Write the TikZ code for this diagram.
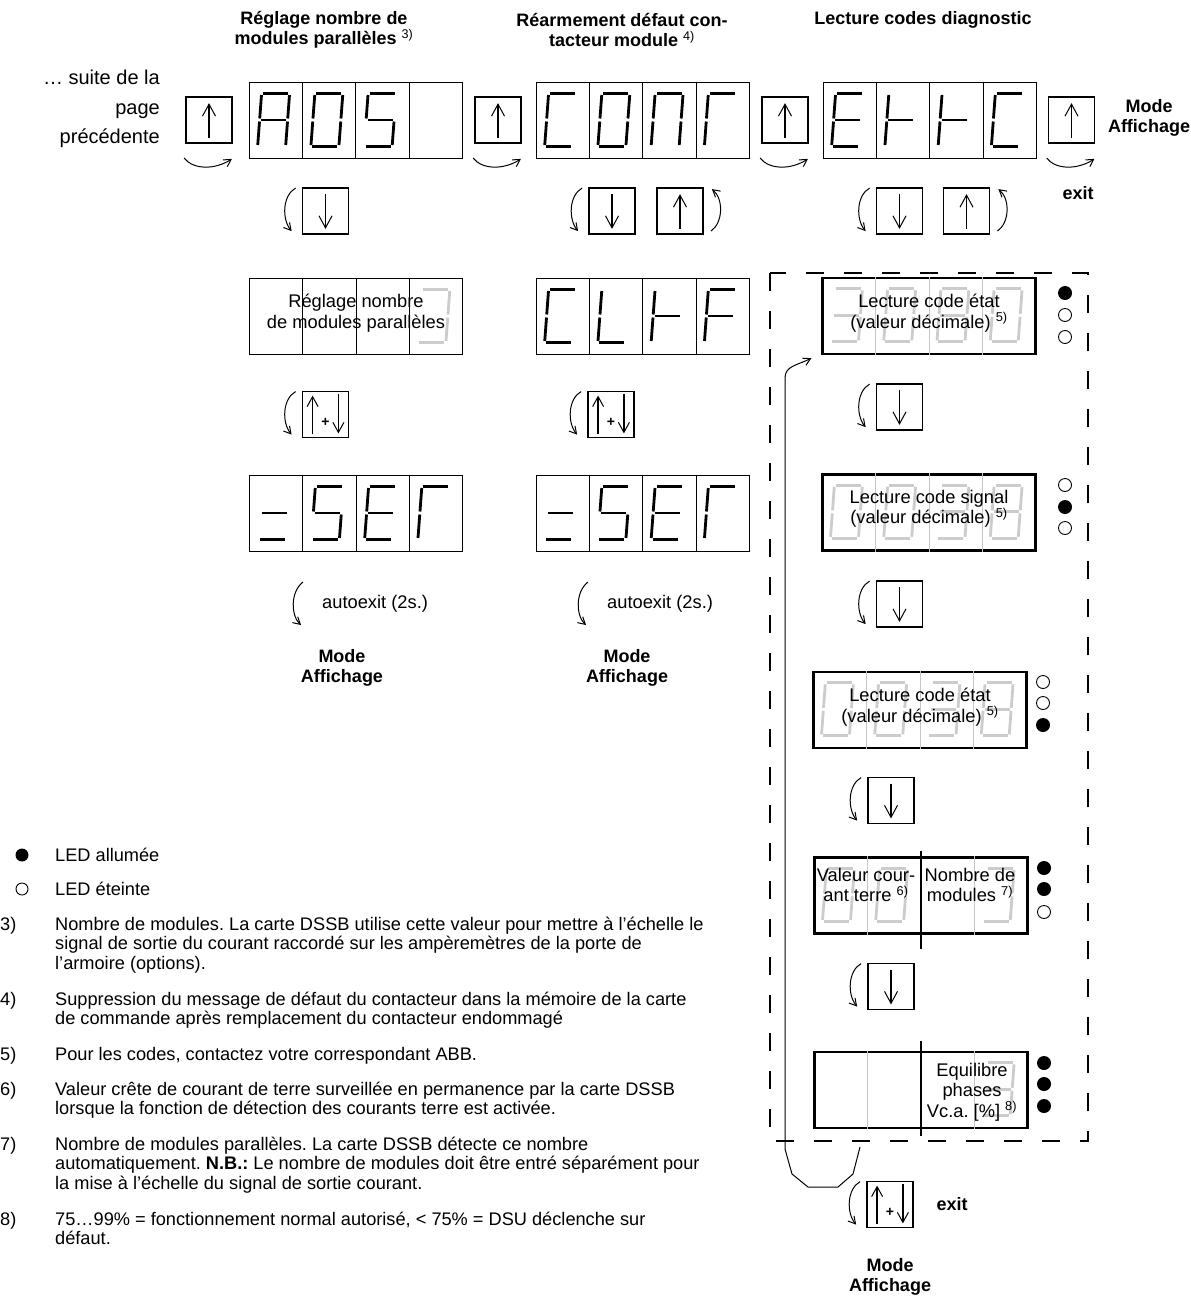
\documentclass[tikz,border=0pt]{standalone}
\usepackage{fontspec}
\setmainfont{Liberation Sans}
\usetikzlibrary{arrows.meta, calc}
\frenchspacing
\tikzset{
  disp/.style={draw, line width=1pt, minimum width=213pt, minimum height=76pt, inner sep=0pt},
  dispT/.style={disp, line width=2.4pt},
  btn/.style={draw, line width=1.8pt, minimum size=46pt, inner sep=0pt},
  barr/.style={line width=1.6pt, -{Straight Barb[length=12pt,width=13pt,line width=1pt]}},
  barr2/.style={line width=1.6pt, -{Straight Barb[length=10pt,width=11pt,line width=1pt]}},
  curl/.style={line width=1pt, -{Straight Barb[length=7pt,width=8pt]}},
  seg/.style={line width=2.8pt},
  gseg/.style={line width=2.8pt, color=gray!40},
  dv/.style={line width=1pt},
  gdv/.style={line width=0.8pt, gray!45},
  tdv/.style={line width=2.6pt},
  dbox/.style={line width=2.3pt, dash pattern=on 18pt off 20pt},
  ledon/.style={circle, fill, minimum size=14pt, inner sep=0pt},
  ledoff/.style={circle, draw, line width=0.9pt, minimum size=13pt, inner sep=0pt},
  lbl/.style={font=\fontsize{18.3}{20.5}\selectfont, align=center, inner sep=0pt},
  ttl/.style={font=\bfseries\fontsize{18}{20}\selectfont, align=center, inner sep=0pt},
  note/.style={font=\fontsize{18.2}{19.2}\selectfont, align=left, anchor=north west, inner sep=0pt},
  dseg/a/.code={\draw (15.5,12) -- (40.5,12);},
  dseg/b/.code={\draw (42,13.5) -- (42,37);},
  dseg/c/.code={\draw (42,40) -- (42,63.5);},
  dseg/d/.code={\draw (15.5,65) -- (40.5,65);},
  dseg/e/.code={\draw (14,40) -- (14,63.5);},
  dseg/f/.code={\draw (14,13.5) -- (14,37);},
  dseg/g/.code={\draw (15.5,38.5) -- (40.5,38.5);},
}
\newcommand\celldig[4][seg]{%
  \begin{scope}[shift={($(#2.north west)+(#3*53.25,0)$)}, xslant=0.075, #1]
    \foreach \s in {#4} {\tikzset{dseg/\s}}
  \end{scope}}
\newcommand\celldiv[3][dv]{\foreach \i in {#3} {\draw[#1] ($(#2.north west)!\i/4!(#2.north east)$) -- ($(#2.south west)!\i/4!(#2.south east)$);}}
\newcommand\kup[1]{\draw[barr] ($(#1.south)+(0,-6)$) -- ($(#1.north)+(0,7)$);}
\newcommand\kdn[1]{\draw[barr] ($(#1.north)+(0,7)$) -- ($(#1.south)+(0,-6)$);}
\newcommand\kpm[1]{%
  \draw[barr2] ($(#1.south west)+(11,-4)$) -- ($(#1.north west)+(11,5)$);
  \draw[barr2] ($(#1.north east)+(-11,3)$) -- ($(#1.south east)+(-11,-5)$);
  \node[font=\bfseries\fontsize{14}{14}\selectfont, inner sep=0pt] (#1p) at ($(#1.center)+(0,8)$) {+};}
\newcommand\curlL[1]{\draw[curl] ($(#1.north west)+(-6,1)$) .. controls ($(#1.north west)+(-19,8)$) and ($(#1.north west)+(-20,32)$) .. ($(#1.north west)+(-10,44)$);}
\newcommand\curlR[1]{\draw[curl] ($(#1.north east)+(7,44)$) .. controls ($(#1.north east)+(19,36)$) and ($(#1.north east)+(20,12)$) .. ($(#1.north east)+(8,2)$);}
\newcommand\curlU[1]{\draw[curl] ($(#1.south west)+(-1,14)$) .. controls ($(#1.south west)+(8,26)$) and ($(#1.south east)+(-18,26)$) .. ($(#1.south east)+(-1,15)$);}
\begin{document}
\begin{tikzpicture}[x=1pt, y=-1pt]
  \useasboundingbox (0,0) rectangle (1191,1296);

  \node[ttl] (t1) at (324,30) {Réglage nombre de\\modules parallèles {\mdseries\textsuperscript{3)}}};
  \node[ttl] (t2) at (622,30) {Réarmement défaut con-\\tacteur module {\mdseries\textsuperscript{4)}}};
  \node[ttl] (t3) at (923,20) {Lecture codes diagnostic};
  \node[lbl, font=\fontsize{20}{29.5}\selectfont, align=right, anchor=east] (prev) at (160,109) {… suite de la\\page\\précédente};

  \node[btn]  (k1)   at (209,120)    {};
  \node[disp] (aos)  at (355.5,120)  {};
  \node[btn]  (k2)   at (498,120)    {};
  \node[disp] (conr) at (642.5,120)  {};
  \node[btn]  (k3)   at (785,120)    {};
  \node[disp] (ettc) at (929.5,120)  {};
  \node[btn]  (k4)   at (1071.5,120) {};
  \node[ttl]  (mode1) at (1149,118)  {Mode\\Affichage};
  \node[ttl]  (exit1) at (1078,193)  {exit};
  \kup{k1} \kup{k2} \kup{k3} \kup{k4}
  \curlU{k1} \curlU{k2} \curlU{k3} \curlU{k4}
  \celldiv{aos}{1,2,3} \celldiv{conr}{1,2,3} \celldiv{ettc}{1,2,3}
  \celldig{aos}{0}{a,b,c,e,f,g} \celldig{aos}{1}{a,b,c,d,e,f} \celldig{aos}{2}{a,f,g,c,d}
  \celldig{conr}{0}{a,f,e,d} \celldig{conr}{1}{a,b,c,d,e,f} \celldig{conr}{2}{a,b,c,e,f} \celldig{conr}{3}{a,f,e}
  \celldig{ettc}{0}{a,f,g,e,d} \celldig{ettc}{1}{f,e,g} \celldig{ettc}{2}{f,e,g} \celldig{ettc}{3}{a,f,e,d}

  \node[btn] (k5) at (325.5,211) {};
  \node[btn] (k6) at (612,211)   {};
  \node[btn] (k7) at (680,211)   {};
  \node[btn] (k8) at (899.5,211) {};
  \node[btn] (k9) at (966.5,211) {};
  \kdn{k5} \kdn{k6} \kup{k7} \kdn{k8} \kup{k9}
  \curlL{k5} \curlL{k6} \curlR{k7} \curlL{k8} \curlR{k9}

  \node[disp] (regl) at (356,316)   {};
  \node[disp] (cltf) at (642.5,316) {};
  \celldiv{regl}{1,2,3} \celldiv{cltf}{1,2,3}
  \celldig[gseg]{regl}{3}{a,b,c,d}
  \node[lbl] (reglt) at (356,313) {Réglage nombre\\de modules parallèles};
  \celldig{cltf}{0}{a,f,e,d} \celldig{cltf}{1}{f,e,d} \celldig{cltf}{2}{f,e,g} \celldig{cltf}{3}{a,f,e,g}

  \node[btn] (k10) at (325.5,414.5) {};
  \node[btn] (k11) at (611,414.5)   {};
  \kpm{k10} \kpm{k11}
  \curlL{k10} \curlL{k11}

  \node[disp] (set1) at (356,513)   {};
  \node[disp] (set2) at (642.5,513) {};
  \celldiv{set1}{1,2,3} \celldiv{set2}{1,2,3}
  \celldig{set1}{0}{g,d} \celldig{set1}{1}{a,f,g,c,d} \celldig{set1}{2}{a,f,g,e,d} \celldig{set1}{3}{a,f,e}
  \celldig{set2}{0}{g,d} \celldig{set2}{1}{a,f,g,c,d} \celldig{set2}{2}{a,f,g,e,d} \celldig{set2}{3}{a,f,e}

  \node[lbl, anchor=west] (ax1) at (322,604) {autoexit (2s.)};
  \node[lbl, anchor=west] (ax2) at (607,604) {autoexit (2s.)};
  \draw[curl] ($(ax1.west)+(-19,-22)$) .. controls ($(ax1.west)+(-32,-12)$) and ($(ax1.west)+(-31,12)$) .. ($(ax1.west)+(-21,21)$);
  \draw[curl] ($(ax2.west)+(-19,-22)$) .. controls ($(ax2.west)+(-32,-12)$) and ($(ax2.west)+(-31,12)$) .. ($(ax2.west)+(-21,21)$);
  \node[ttl] (mode2) at (342,668) {Mode\\Affichage};
  \node[ttl] (mode3) at (627,668) {Mode\\Affichage};

  \draw[dbox] (770,273) rectangle (1088,1141);
  \node[dispT] (etat1) at (929,316)    {};
  \node[btn]   (k12)   at (899.5,407)  {};
  \node[dispT] (sign)  at (929,512.5)  {};
  \node[btn]   (k13)   at (899.5,604)  {};
  \node[dispT] (etat2) at (920,710)    {};
  \node[btn]   (k14)   at (891,800.5)  {};
  \node[dispT] (terre) at (921,895.5)  {};
  \node[btn]   (k15)   at (891,986.5)  {};
  \node[dispT] (phase) at (921,1090)   {};
  \node[btn]   (k16)   at (890,1204.5) {};
  \kdn{k12} \kdn{k13} \kdn{k14} \kdn{k15} \kpm{k16}
  \curlL{k12} \curlL{k13} \curlL{k14} \curlL{k15} \curlL{k16}
  \node[ttl] (exit2) at (952,1204) {exit};
  \node[ttl] (mode4) at (890,1277) {Mode\\Affichage};

  \celldiv[gdv]{etat1}{1,2,3} \celldiv[gdv]{sign}{1,2,3} \celldiv[gdv]{etat2}{1,2,3}
  \celldiv[gdv]{terre}{1,3} \celldiv[gdv]{phase}{1,3}
  \draw[tdv] ($(terre.north)+(0,-5)$) -- ($(terre.south)+(0,14)$);
  \draw[tdv] ($(phase.north)+(0,-10)$) -- ($(phase.south)+(0,7)$);
  \celldig[gseg]{etat1}{0}{a,b,g,c,d} \celldig[gseg]{etat1}{1}{a,b,c,d,e,f} \celldig[gseg]{etat1}{2}{a,b,c,d,e,f,g} \celldig[gseg]{etat1}{3}{a,b,c,d,e,f}
  \celldig[gseg]{sign}{0}{a,b,c,d,e,f} \celldig[gseg]{sign}{1}{a,b,c,d,e,f} \celldig[gseg]{sign}{2}{a,b,g,c,d} \celldig[gseg]{sign}{3}{a,b,c,d,e,f,g}
  \celldig[gseg]{etat2}{0}{a,b,c,d,e,f} \celldig[gseg]{etat2}{1}{a,b,c,d,e,f} \celldig[gseg]{etat2}{2}{a,b,g,c,d} \celldig[gseg]{etat2}{3}{a,b,c,d,e,f,g}
  \celldig[gseg]{terre}{0}{a,b,c,d,e,f} \celldig[gseg]{terre}{1}{a,b,c,d,e,f} \celldig[gseg]{terre}{3}{a,b,c,d}
  \celldig[gseg]{phase}{3}{a,b,c,d,g}
  \node[lbl] (et1t) at (929,313)  {Lecture code état\\(valeur décimale) \textsuperscript{5)}};
  \node[lbl] (sigt) at (929,509)  {Lecture code signal\\(valeur décimale) \textsuperscript{5)}};
  \node[lbl] (et2t) at (920,707)  {Lecture code état\\(valeur décimale) \textsuperscript{5)}};
  \node[lbl] (tert) at (866,885)  {Valeur cour-\\ant terre \textsuperscript{6)}};
  \node[lbl] (modt) at (970,885)  {Nombre de\\modules \textsuperscript{7)}};
  \node[lbl] (phat) at (972,1092) {Equilibre\\phases\\Vc.a. [\%] \textsuperscript{8)}};

  \node[ledon]  (l1a) at (1065,293)  {};
  \node[ledoff] (l1b) at (1065,315)  {};
  \node[ledoff] (l1c) at (1065,337)  {};
  \node[ledoff] (l2a) at (1065,485)  {};
  \node[ledon]  (l2b) at (1065,507)  {};
  \node[ledoff] (l2c) at (1065,528)  {};
  \node[ledoff] (l3a) at (1043,682)  {};
  \node[ledoff] (l3b) at (1043,703)  {};
  \node[ledon]  (l3c) at (1043,725)  {};
  \node[ledon]  (l4a) at (1044,868)  {};
  \node[ledon]  (l4b) at (1044,889)  {};
  \node[ledoff] (l4c) at (1044,912)  {};
  \node[ledon]  (l5a) at (1044,1063) {};
  \node[ledon]  (l5b) at (1044,1084) {};
  \node[ledon]  (l5c) at (1044,1106) {};

  \coordinate (lp) at (860,1147);
  \draw[curl] (lp) -- ++(-7,27) -- ++(-15,13) -- ++(-30,0) -- ++(-16,-13) -- ++(-7,-25) -- (785,378) .. controls +(0,-12) and +(-14,7) .. ($(etat1.south west)+(-10,3)$);

  \node[ledon, minimum size=13pt]  (lon)  at (22,855) {};
  \node[ledoff, minimum size=12pt] (loff) at (22,889) {};
  \node[note, anchor=west] (lont)  at (55,855) {LED allumée};
  \node[note, anchor=west] (lofft) at (55,889) {LED éteinte};
  \node[note] (n3) at (0,917)  {\strut 3)};
  \node[note] (f3) at (55,917)  {\strut Nombre de modules. La carte DSSB utilise cette valeur pour mettre à l’échelle le\\signal de sortie du courant raccordé sur les ampèremètres de la porte de\\l’armoire (options).};
  \node[note] (n4) at (0,992)  {\strut 4)};
  \node[note] (f4) at (55,992)  {\strut Suppression du message de défaut du contacteur dans la mémoire de la carte\\de commande après remplacement du contacteur endommagé};
  \node[note] (n5) at (0,1047) {\strut 5)};
  \node[note] (f5) at (55,1047) {\strut Pour les codes, contactez votre correspondant ABB.};
  \node[note] (n6) at (0,1082) {\strut 6)};
  \node[note] (f6) at (55,1082) {\strut Valeur crête de courant de terre surveillée en permanence par la carte DSSB\\lorsque la fonction de détection des courants terre est activée.};
  \node[note] (n7) at (0,1137) {\strut 7)};
  \node[note] (f7) at (55,1137) {\strut Nombre de modules parallèles. La carte DSSB détecte ce nombre\\automatiquement. \textbf{N.B.:} Le nombre de modules doit être entré séparément pour\\la mise à l’échelle du signal de sortie courant.};
  \node[note] (n8) at (0,1212) {\strut 8)};
  \node[note] (f8) at (55,1212) {\strut 75…99\% = fonctionnement normal autorisé, < 75\% = DSU déclenche sur\\défaut.};
\end{tikzpicture}
\end{document}
